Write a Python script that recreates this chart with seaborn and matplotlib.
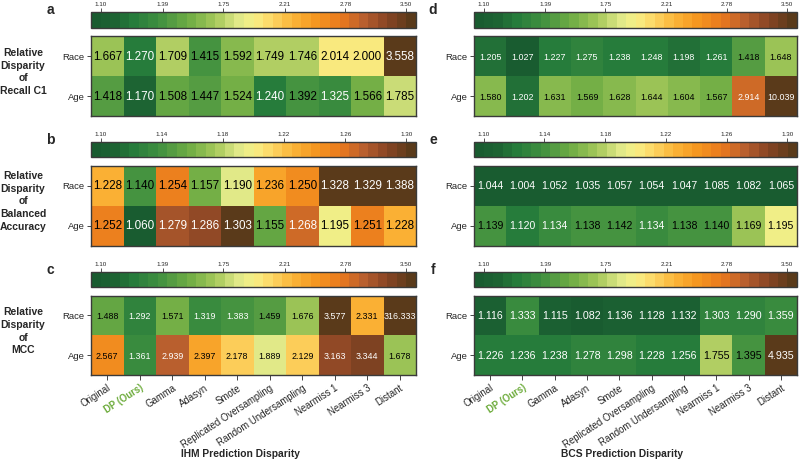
import numpy as np
import pandas as pd
import matplotlib
matplotlib.use("Agg")
import matplotlib.pyplot as plt
import seaborn as sns
from matplotlib.colors import LinearSegmentedColormap, LogNorm, Normalize

# =============================================
# DATA
# =============================================
methods = ["Original", "DP (Ours)", "Gamma", "Adasyn", "Smote",
           "Replicated Oversampling", "Random Undersampling",
           "Nearmiss 1", "Nearmiss 3", "Distant"]
groups = ["Race", "Age"]

# IHM prediction disparity
ihm_recall_race = [1.667, 1.270, 1.709, 1.415, 1.592, 1.749, 1.746, 2.014, 2.000, 3.558]
ihm_recall_age = [1.418, 1.170, 1.508, 1.447, 1.524, 1.240, 1.392, 1.325, 1.566, 1.785]
ihm_bacc_race = [1.228, 1.140, 1.254, 1.157, 1.190, 1.236, 1.250, 1.328, 1.329, 1.388]
ihm_bacc_age = [1.252, 1.060, 1.279, 1.286, 1.303, 1.155, 1.268, 1.195, 1.251, 1.228]
ihm_mcc_race = [1.488, 1.292, 1.571, 1.319, 1.383, 1.459, 1.676, 3.577, 2.331, 316.333]
ihm_mcc_age = [2.567, 1.361, 2.939, 2.397, 2.178, 1.889, 2.129, 3.163, 3.344, 1.678]

# BCS prediction disparity
bcs_recall_race = [1.205, 1.027, 1.227, 1.275, 1.238, 1.248, 1.198, 1.261, 1.418, 1.648]
bcs_recall_age = [1.580, 1.202, 1.631, 1.569, 1.628, 1.644, 1.604, 1.567, 2.914, 10.039]
bcs_bacc_race = [1.044, 1.004, 1.052, 1.035, 1.057, 1.054, 1.047, 1.085, 1.082, 1.065]
bcs_bacc_age = [1.139, 1.120, 1.134, 1.138, 1.142, 1.134, 1.138, 1.140, 1.169, 1.195]
bcs_mcc_race = [1.116, 1.333, 1.115, 1.082, 1.136, 1.128, 1.132, 1.303, 1.290, 1.359]
bcs_mcc_age = [1.226, 1.236, 1.238, 1.278, 1.298, 1.228, 1.256, 1.755, 1.395, 4.935]

log_ticks = [1.10, 1.39, 1.75, 2.21, 2.78, 3.50]
lin_ticks = [1.10, 1.14, 1.18, 1.22, 1.26, 1.30]

row_titles = ["Relative\nDisparity\nof\nRecall C1",
              "Relative\nDisparity\nof\nBalanced\nAccuracy",
              "Relative\nDisparity\nof\nMCC"]

# =============================================
# STYLE
# =============================================
sns.set_style("white")
plt.rcParams["font.family"] = ["Liberation Sans", "DejaVu Sans"]

cmap = LinearSegmentedColormap.from_list("disp", [
    (0.00, "#195c30"), (0.06, "#1d6433"), (0.12, "#267c3b"),
    (0.20, "#3f8f3f"), (0.30, "#72ae45"), (0.38, "#a5c85a"),
    (0.45, "#dfe888"), (0.50, "#f8f087"), (0.56, "#fdd564"),
    (0.62, "#fbb73a"), (0.70, "#f5961f"), (0.78, "#e8781e"),
    (0.85, "#b85e2e"), (0.92, "#8a4524"), (1.00, "#5a3a1a")], N=34)

# norm limits and the value range where annotations stay black
scales = {
    "log": dict(lims=(1.06, 3.632), ticks=log_ticks, dark=(1.388, 2.75)),
    "lin": dict(lims=(1.0936, 1.3064), ticks=lin_ticks, dark=(1.136, 1.26)),
}

fig = plt.figure(figsize=(7.99, 4.60), dpi=100)
W, H = 799.0, 460.0


def box(x0, y0, x1, y1):
    return [x0 / W, 1 - y1 / H, (x1 - x0) / W, (y1 - y0) / H]


# panel geometry in pixels (top, bottom of heatmap; top, bottom of colorbar)
rows_px = [(37, 117, 13, 29), (166.5, 246.5, 142.5, 158), (296.5, 376, 272.5, 287.5)]
cols_px = [(91, 416), (474, 797)]

panels = [
    [(ihm_recall_race, ihm_recall_age, "log", 8.4),
     (ihm_bacc_race, ihm_bacc_age, "lin", 8.4),
     (ihm_mcc_race, ihm_mcc_age, "log", 6.4)],
    [(bcs_recall_race, bcs_recall_age, "log", 6.4),
     (bcs_bacc_race, bcs_bacc_age, "lin", 7.6),
     (bcs_mcc_race, bcs_mcc_age, "log", 7.7)],
]
letters = [["a", "b", "c"], ["d", "e", "f"]]
xlabels = ["IHM Prediction Disparity", "BCS Prediction Disparity"]
edge = "#3a3a3a"

for ci, (x0, x1) in enumerate(cols_px):
    for ri, (ht, hb, ct, cb) in enumerate(rows_px):
        race, age, kind, fs = panels[ci][ri]
        sc = scales[kind]
        df = pd.DataFrame([race, age], index=groups, columns=methods)
        if kind == "log":
            norm = LogNorm(*sc["lims"], clip=True)
        else:
            norm = Normalize(*sc["lims"], clip=True)
        ticks = sc["ticks"]

        ax = fig.add_axes(box(x0, ht, x1, hb))
        cax = fig.add_axes(box(x0, ct, x1, cb))
        sns.heatmap(df, ax=ax, cmap=cmap, norm=norm, annot=True, fmt=".3f",
                    annot_kws={"fontsize": fs}, cbar=True, cbar_ax=cax,
                    cbar_kws={"orientation": "horizontal"})

        # text colour: white on the dark ends of the scale
        lo, hi = sc["dark"]
        for txt, v in zip(ax.texts, df.values.flatten()):
            txt.set_color("black" if lo <= v <= hi else "white")

        for s in ax.spines.values():
            s.set_visible(True)
            s.set_color(edge)
            s.set_linewidth(1.0)
        ax.tick_params(axis="y", length=3, width=0.7, color="#444444",
                       labelsize=6.8, pad=1.5, left=True)
        ax.set_yticklabels(groups, rotation=0)
        ax.set_ylabel("")
        ax.set_xlabel("")
        if ri == 2:
            ax.tick_params(axis="x", length=3.5, width=0.7, color="#444444",
                           labelsize=6.9, pad=1.5, bottom=True)
            ax.set_xticklabels(methods, rotation=33, ha="right",
                               rotation_mode="anchor")
            for lab in ax.get_xticklabels():
                if lab.get_text() == "DP (Ours)":
                    lab.set_color("#6cab3a")
                    lab.set_fontweight("bold")
        else:
            ax.set_xticks([])

        # colorbar
        cb_obj = ax.collections[0].colorbar
        cax.xaxis.set_ticks_position("top")
        cax.minorticks_off()
        cax.set_xticks(ticks)
        cax.set_xticklabels([f"{t:.2f}" for t in ticks])
        cax.tick_params(axis="x", labelsize=4.5, length=3, width=0.6,
                        pad=1, color="#333333", top=True, bottom=False)
        cax.minorticks_off()
        cb_obj.outline.set_edgecolor(edge)
        cb_obj.outline.set_linewidth(1.0)

        fig.text((x0 - 41) / W, 1 - (ct - 3) / H, letters[ci][ri],
                 fontsize=10, fontweight="bold", ha="center", va="center")

        if ci == 0:
            fig.text(23 / W, 1 - ((ht + hb) / 2 - 5) / H, row_titles[ri],
                     fontsize=7.5, fontweight="bold", ha="center",
                     va="center", linespacing=1.32)

    fig.text(((x0 + x1) / 2 - 13) / W, 1 - 454 / H, xlabels[ci],
             fontsize=7.4, fontweight="bold", ha="center", va="center")

fig.savefig("out.png", dpi=100)
